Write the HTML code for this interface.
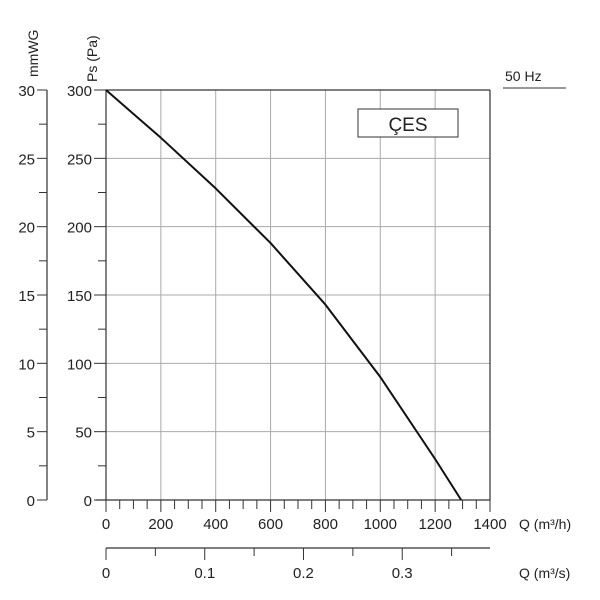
<!DOCTYPE html>
<html><head><meta charset="utf-8"><style>
body{margin:0;background:#fff}
svg{display:block;font-family:"Liberation Sans",Arial,sans-serif}
</style></head><body>
<svg id="c" width="600" height="600"></svg>
<script>
const qValues=[0,200,400,600,800,1000,1200,1295];
const psValues=[300,265,228,188,143,90,30,0];
const xTicks=[0,200,400,600,800,1000,1200,1400];
const yTicks=[0,50,100,150,200,250,300];
const mmTicks=[0,5,10,15,20,25,30];
const m3sTicks=[0,0.1,0.2,0.3];
const X0=106,X1=490,Y0=500,Y1=90;
const sx=q=>X0+(q/1400)*(X1-X0);
const sy=p=>Y0-(p/300)*(Y0-Y1);
const svg=document.getElementById('c');
const NS='http://www.w3.org/2000/svg';
function mk(t,a,txt){const e=document.createElementNS(NS,t);for(const k in a)e.setAttribute(k,a[k]);if(txt!=null)e.textContent=txt;svg.appendChild(e);return e;}
function line(x1,y1,x2,y2,c,w,name){const e=mk('line',{x1,y1,x2,y2,stroke:c,'stroke-width':w});

return e;}
function text(x,y,s,anchor,size,name,extra){const e=mk('text',Object.assign({x,y,'text-anchor':anchor,'font-size':size,fill:'#222'},extra||{}),s);

return e;}
// grid
xTicks.forEach(q=>{if(q>0&&q<1400)line(sx(q),Y1,sx(q),Y0,'#aaa',1,'grid-line-x');});
yTicks.forEach(p=>{if(p>0&&p<300)line(X0,sy(p),X1,sy(p),'#aaa',1,'grid-line-y');});
// border
line(X0,Y1,X1,Y1,'#333',1.2,'plot-top-border');
line(X1,Y1,X1,Y0,'#333',1.2,'plot-right-border');
line(X0,Y1,X0,Y0,'#333',1.2,'pa-axis');
line(X0-10,Y0,X1,Y0,'#333',1.2,'q-axis');
// Pa ticks
for(let p=0;p<=300;p+=25){line(X0-(p%50===0?12:8),sy(p),X0,sy(p),'#333',1,'pa-tick');}
yTicks.forEach(p=>text(X0-14,sy(p)+6,String(p),'end',15,'pa-tick-label'));
// mmWG axis
const MX=47;
line(MX,Y1,MX,Y0,'#333',1.2,'mmwg-axis');
for(let m=0;m<=30;m+=2.5){line(MX-(m%5===0?10:8),sy(m*10),MX,sy(m*10),'#333',1,'mmwg-tick');}
mmTicks.forEach(m=>text(MX-12,sy(m*10)+6,String(m),'end',15,'mmwg-tick-label'));
text(38,77,'mmWG','start',14,'mmwg-axis-title',{transform:'rotate(-90 38 77)'});
text(97,82,'Ps (Pa)','start',14,'pa-axis-title',{transform:'rotate(-90 97 82)'});
// Q ticks
for(let q=0;q<=1400;q+=50){line(sx(q),Y0,sx(q),Y0+(q%200===0?12:9),'#333',1,'q-tick');}
xTicks.forEach(q=>text(sx(q),Y0+29,String(q),'middle',15,'q-tick-label'));
text(519,529,'Q (m³/h)','start',14,'q-axis-title');
// m3/s axis
const SY=548;
line(X0,SY,X1,SY,'#333',1.2,'m3s-axis');
for(let v=0;v<=0.36;v+=0.05){line(sx(v*3600),SY,sx(v*3600),SY+(Math.round(v*100)%10===0?12:8),'#333',1,'m3s-tick');}
m3sTicks.forEach(v=>text(sx(v*3600),SY+30,String(v),'middle',15,'m3s-tick-label'));
text(519,578,'Q (m³/s)','start',14,'m3s-axis-title');
// curve
const d=qValues.map((q,i)=>(i?'L':'M')+sx(q).toFixed(1)+','+sy(psValues[i]).toFixed(1)).join(' ');
const cp=mk('path',{d,fill:'none',stroke:'#111','stroke-width':2,'stroke-linejoin':'round'});


// label box
const r=mk('rect',{x:358,y:109,width:100,height:28,fill:'#fff',stroke:'#333','stroke-width':1});


text(408,131,'ÇES','middle',19,'model-label');
text(505,81,'50 Hz','start',14,'frequency-label');
line(503,88,566,88,'#333',1,'frequency-underline');
</script>
</body></html>
